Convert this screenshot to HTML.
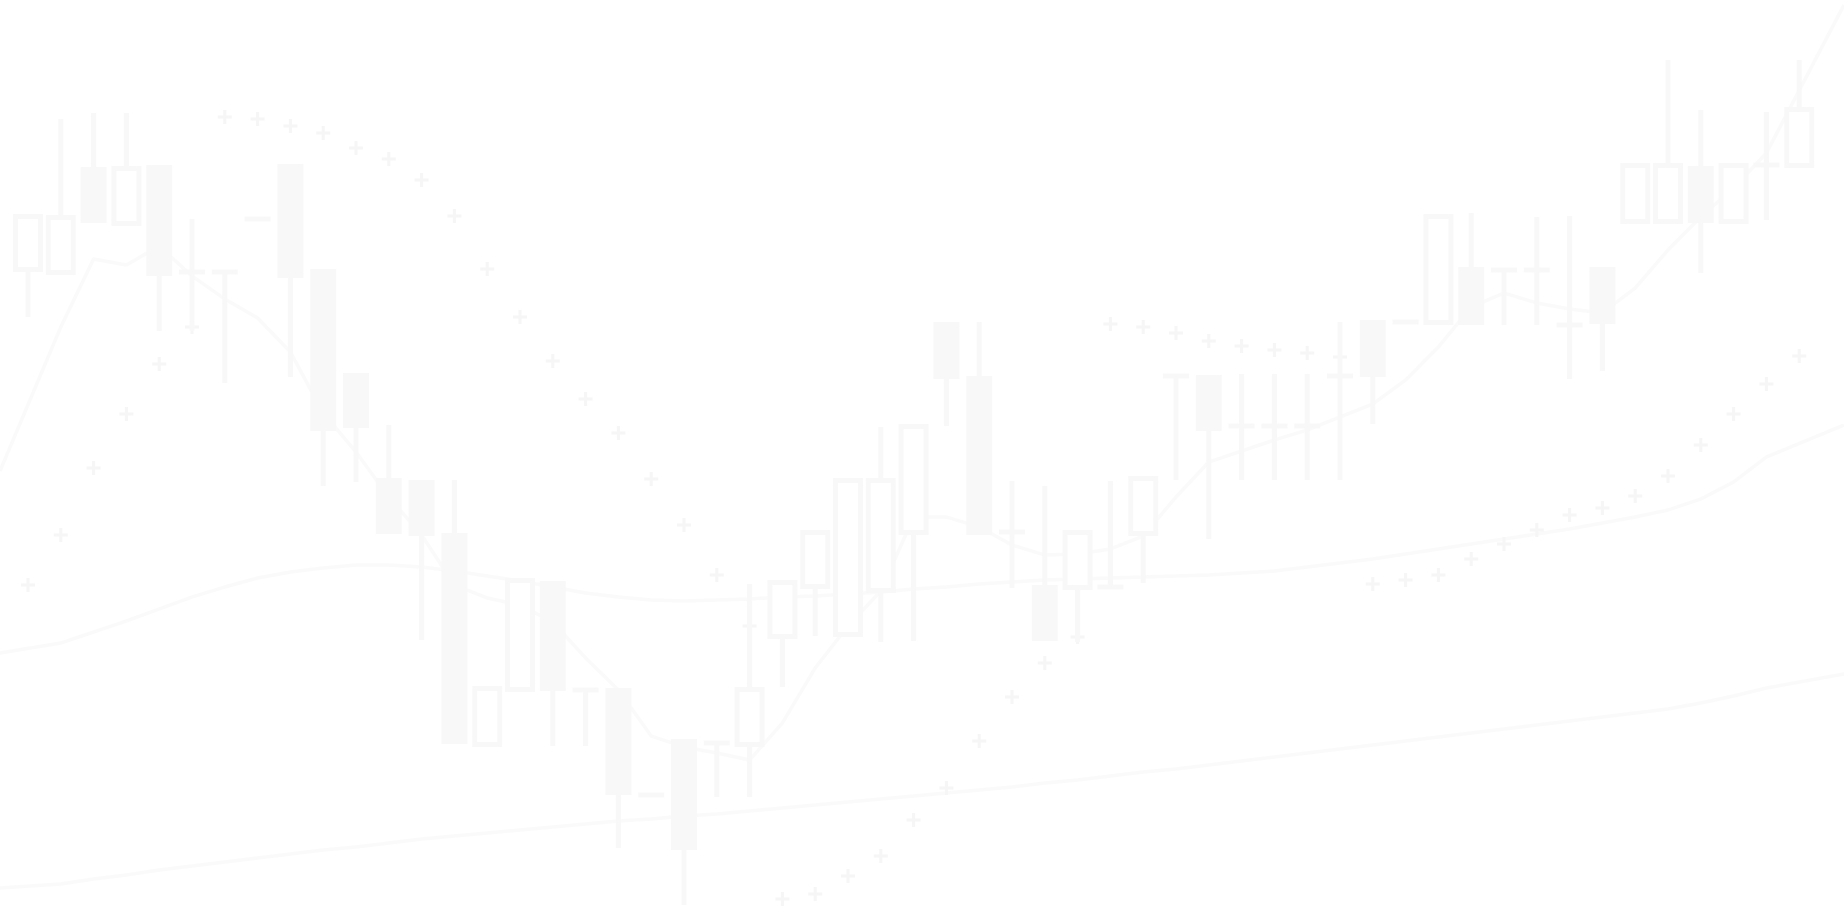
<!DOCTYPE html>
<html><head><meta charset="utf-8"><style>
html,body{margin:0;padding:0;background:#ffffff;width:1844px;height:907px;overflow:hidden}
svg{display:block}
</style></head><body>
<svg id="chart" width="1844" height="907" viewBox="0 0 1844 907" xmlns="http://www.w3.org/2000/svg">
<rect width="1844" height="907" fill="#ffffff"/>
<g id="lines"></g>
<g id="psar"></g>
<g id="candles"></g>
</svg>
<script>
// price values (higher = up). y = 907 - price
const opens  = [635,632,740,681,742,635,635,688,743,638,534,429,427,374,160,215,326,217,219,112,168,164,160,268,318,270,314,372,585,531,375,322,317,320,371,531,532,481,481,481,531,587,585,582,640,637,637,582,640,683,683,741,683,742,739];
const closes = [693,692,684,741,631,635,635,688,629,476,479,373,371,163,221,329,216,217,112,112,57,164,220,327,377,429,429,483,528,372,375,266,377,320,431,531,476,481,481,481,531,530,585,693,582,637,637,582,583,744,744,684,744,742,800];
const highs  = [693,788,794,794,742,688,635,688,743,638,534,482,427,427,221,329,326,217,219,168,168,164,323,327,377,429,480,483,585,585,426,421,377,426,431,531,532,533,533,533,585,587,585,693,694,637,690,691,640,744,847,797,744,795,847];
const lows   = [590,632,684,681,576,576,524,688,530,421,425,373,267,163,161,215,161,161,59,168,2,110,110,220,271,270,265,266,481,372,319,266,265,320,324,427,368,427,427,427,427,483,585,582,582,582,582,528,536,683,683,634,683,687,739];
const psarVals = [322,372,439,493,543,580,790,788,781,774,759,748,727,691,638,590,546,508,474,428,382,332,281,8,13,31,51,87,119,166,210,244,270,583,580,574,566,561,557,554,550,323,327,332,348,363,377,392,399,411,431,462,493,523,551];
const fastLine = [436,580,648,642,661,631,608,589,555,494,455,410,372,322,309,302,285,249,217,171,160,154,147,184,239,281,316,390,390,380,362,352,353,358,371,410,445,456,467,477,490,503,527,560,600,614,604,598,594,619,657,690,719,754,902];
const midLine  = [254,264,275,286,298,310,320,329,335,339,342,342,340,336,331,326,320,314,310,307,306,307,308,310,311,313,315,318,320,323,325,327,328,329,330,331,332,334,336,340,344,348,353,358,363,368,373,378,384,390,397,408,425,450,482];
const slowLine = [19,23,28,32,37,41,45,49,53,57,60,64,68,71,74,77,80,83,86,88,91,93,96,99,102,105,108,111,114,117,120,124,127,131,135,138,142,146,150,154,158,162,166,170,174,178,182,186,190,194,198,204,211,219,233];

const X0 = 28, STEP = 32.8;
function xAt(i){ return X0 + i*STEP; }
function yAt(p){ return 907 - p; }
const NS = 'http://www.w3.org/2000/svg';
const C = '#f8f8f8', L = '#fafafa';
function mk(tag, attrs, parent){
  const e = document.createElementNS(NS, tag);
  for (const k in attrs) e.setAttribute(k, attrs[k]);
  parent.appendChild(e); return e;
}
const gl = document.getElementById('lines');
[[fastLine,'fast-moving-average'],[midLine,'mid-moving-average'],[slowLine,'slow-moving-average']].forEach(([arr,name])=>{
  const pts = arr.map((v,i)=>{
    const x = i===0 ? 0 : (i===arr.length-1 ? 1844 : xAt(i));
    return x.toFixed(1)+','+yAt(v).toFixed(1);
  }).join(' ');
  const pl = mk('polyline',{points:pts,fill:'none',stroke:L,'stroke-width':3.5,'stroke-linejoin':'round'},gl);
  
  
});
const gp = document.getElementById('psar');
psarVals.forEach((v,i)=>{
  const x = xAt(i), y = yAt(v);
  const p = mk('path',{d:`M${x-7},${y}H${x+7}M${x},${y-7}V${y+7}`,stroke:'#f6f6f6','stroke-width':3},gp);
  
  
});
const gc = document.getElementById('candles');
opens.forEach((o,i)=>{
  const c = closes[i], h = highs[i], l = lows[i];
  const x = xAt(i);
  const g = mk('g',{},gc);
  
  
  const top = yAt(Math.max(o,c)), bot = yAt(Math.min(o,c));
  mk('line',{x1:x,x2:x,y1:yAt(h),y2:yAt(l),stroke:C,'stroke-width':5},g);
  if (Math.abs(o-c) < 3) {
    mk('rect',{x:x-13,y:top-2.5,width:26,height:5,fill:C},g);
  } else if (c > o) {
    mk('rect',{x:x-12.5,y:top+2.5,width:25,height:bot-top-5,fill:'#ffffff',stroke:C,'stroke-width':5},g);
  } else {
    mk('rect',{x:x-13,y:top,width:26,height:bot-top,fill:C},g);
  }
});
</script>
</body></html>
